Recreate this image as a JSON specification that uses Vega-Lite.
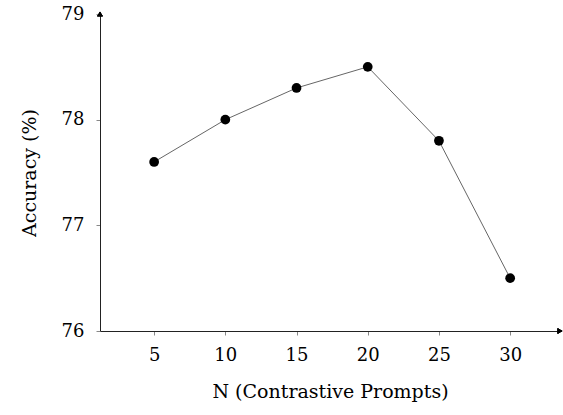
{
  "$schema": "https://vega.github.io/schema/vega-lite/v6.json",
  "width": 460,
  "height": 317,
  "autosize": "none",
  "padding": {"left": 100, "top": 14, "right": 3, "bottom": 84},
  "background": "white",
  "config": {
    "view": {"stroke": null},
    "font": "DejaVu Serif",
    "axis": {
      "grid": false,
      "domainColor": "#222",
      "domainWidth": 1,
      "tickColor": "#888",
      "tickSize": 4,
      "labelFont": "DejaVu Serif",
      "labelFontSize": 18,
      "labelColor": "black",
      "titleFont": "DejaVu Serif",
      "titleFontSize": 19,
      "titleFontWeight": "normal",
      "titleColor": "black"
    }
  },
  "data": {
    "values": [
      {"N": 5, "acc": 77.6},
      {"N": 10, "acc": 78.0},
      {"N": 15, "acc": 78.3},
      {"N": 20, "acc": 78.5},
      {"N": 25, "acc": 77.8},
      {"N": 30, "acc": 76.5}
    ]
  },
  "layer": [
    {
      "mark": {"type": "line", "color": "#666", "strokeWidth": 1},
      "encoding": {
        "x": {
          "field": "N", "type": "quantitative",
          "scale": {"domain": [1.2, 33.5], "nice": false, "zero": false},
          "axis": {"values": [5, 10, 15, 20, 25, 30], "format": "d", "labelPadding": 11, "title": "N (Contrastive Prompts)", "titlePadding": 18}
        },
        "y": {
          "field": "acc", "type": "quantitative",
          "scale": {"domain": [76, 79], "nice": false, "zero": false},
          "axis": {"values": [76, 77, 78, 79], "format": "d", "labelPadding": 12, "title": "Accuracy (%)", "titlePadding": 22}
        }
      }
    },
    {
      "mark": {"type": "point", "filled": true, "color": "black", "size": 95, "opacity": 1},
      "encoding": {
        "x": {"field": "N", "type": "quantitative"},
        "y": {"field": "acc", "type": "quantitative"}
      }
    },
    {
      "mark": {"type": "point", "shape": "triangle-right", "filled": true, "color": "black", "size": 30, "opacity": 1, "clip": false},
      "encoding": {"x": {"datum": 33.5}, "y": {"datum": 76}}
    },
    {
      "mark": {"type": "point", "shape": "triangle-up", "filled": true, "color": "black", "size": 30, "opacity": 1, "clip": false},
      "encoding": {"x": {"datum": 1.2}, "y": {"datum": 79}}
    }
  ]
}
